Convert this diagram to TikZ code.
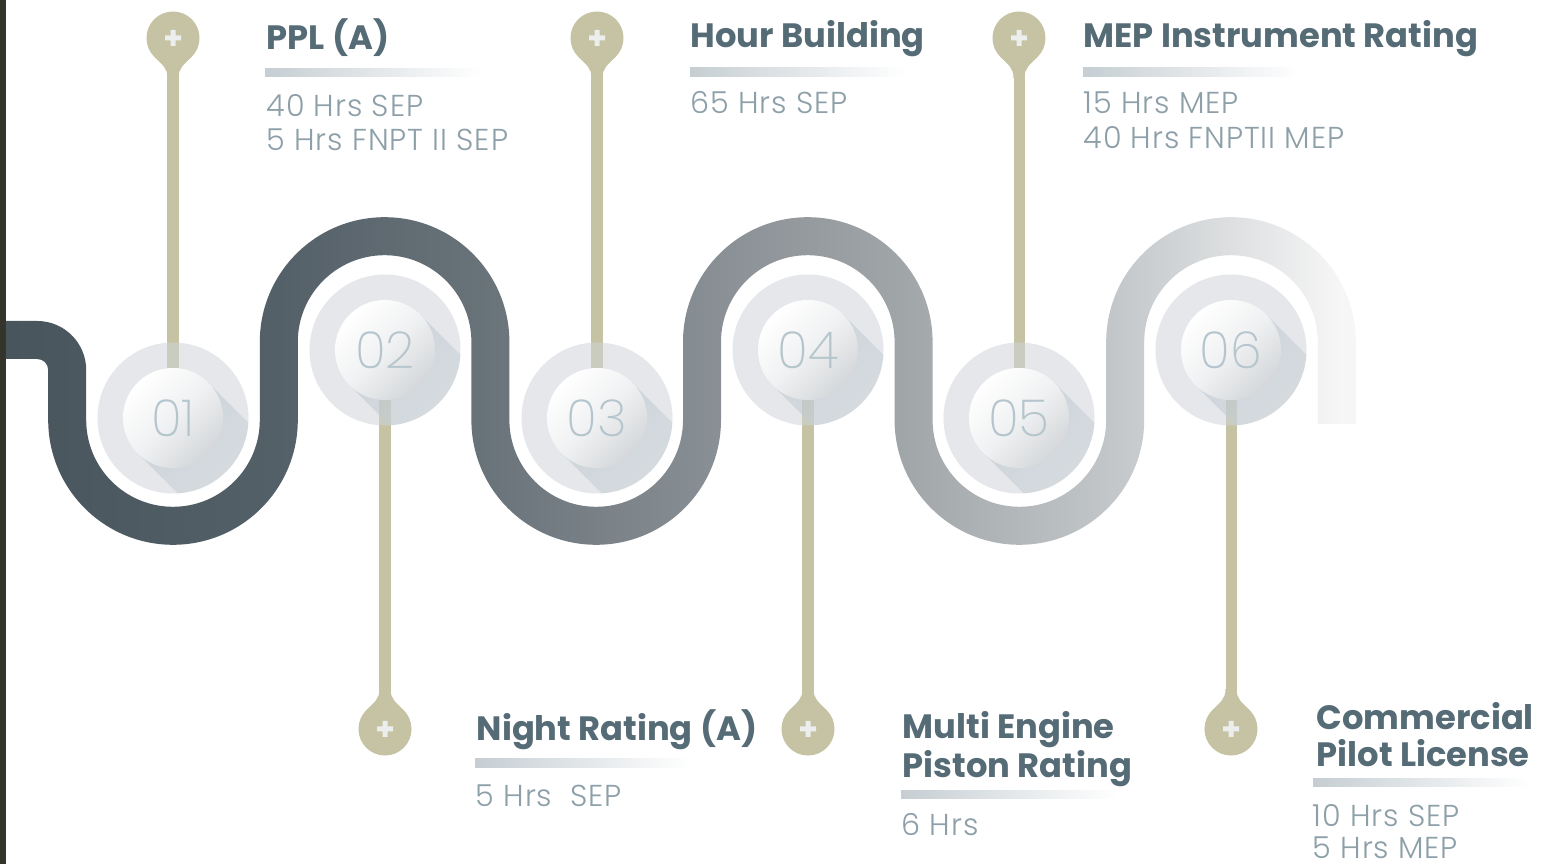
\documentclass[tikz,border=0pt]{standalone}
\usepackage{fontspec}
\setmainfont{Poppins}
\newfontfamily\lightfont{Poppins Light}[LetterSpace=3]
\newfontfamily\thinfont{Poppins ExtraLight}
\usetikzlibrary{positioning}
\definecolor{olivepin}{RGB}{197,195,163}
\definecolor{slate}{RGB}{85,107,118}
\definecolor{mist}{RGB}{141,159,168}
\definecolor{numblue}{RGB}{181,197,205}
\definecolor{ringgrey}{RGB}{208,213,217}
\definecolor{shadedark}{RGB}{182,196,204}
\definecolor{ballgrey}{RGB}{212,215,218}
\definecolor{bargrey}{RGB}{198,206,211}
\definecolor{crosswhite}{RGB}{236,238,238}
\definecolor{edge}{RGB}{52,52,42}
\definecolor{band0}{RGB}{72,85,93}
\definecolor{band1}{RGB}{84,96,104}
\definecolor{band2}{RGB}{104,114,121}
\definecolor{band3}{RGB}{135,142,147}
\definecolor{band4}{RGB}{160,165,168}
\definecolor{band5}{RGB}{196,200,203}
\definecolor{band6}{RGB}{246,246,246}
\pgfdeclarehorizontalshading{bandshade}{100bp}{color(0bp)=(band0); color(25bp)=(band0); color(35bp)=(band1); color(42.5bp)=(band2); color(50.7bp)=(band3); color(58.1bp)=(band4); color(66.3bp)=(band5); color(74.4bp)=(band6); color(100bp)=(band6)}
\tikzset{
  ring/.style={fill=ringgrey, fill opacity=0.55},
  longshade/.style={top color=shadedark, bottom color=ringgrey, shading angle=45, fill opacity=0.5},
  ball/.style={circle, minimum size=1cm, inner sep=0pt, top color=white, bottom color=ballgrey, middle color=white!65!ballgrey, shading angle=45, text=numblue, font=\thinfont\fontsize{14.5}{16}\selectfont},
  head/.style={circle, fill=olivepin, minimum size=0.53cm, inner sep=0pt},
  stem/.style={draw=olivepin, line width=0.11cm},
  title/.style={anchor=base west, inner sep=0pt, text=slate, font=\bfseries\fontsize{9.6}{11}\selectfont},
  detail/.style={anchor=base west, inner sep=0pt, text=mist, font=\lightfont\fontsize{8.6}{10}\selectfont},
  bar/.style={left color=bargrey, right color=white}
}

\begin{document}
\begin{tikzpicture}[x=0.01cm, y=-0.01cm]
  \useasboundingbox (0,0) rectangle (1544,864);
  \fill[white] (0,0) rectangle (1544,864);
  \fill[edge] (0,0) rectangle (6,864);

  % the wave
  \shade[shading=bandshade] (6,321) -- (37.2,321) arc[start angle=-90, end angle=0, radius=49]
    -- (86.2,420) arc[start angle=180, end angle=0, radius=86.8]
    -- (259.8,342) arc[start angle=180, end angle=360, radius=124.8]
    -- (509.4,420) arc[start angle=180, end angle=0, radius=86.8]
    -- (683,342) arc[start angle=180, end angle=360, radius=124.8]
    -- (932.6,420) arc[start angle=180, end angle=0, radius=86.8]
    -- (1106.2,342) arc[start angle=180, end angle=360, radius=124.8]
    -- (1355.8,424) -- (1317.8,424)
    -- (1317.8,342) arc[start angle=0, end angle=-180, radius=86.8]
    -- (1144.2,420) arc[start angle=0, end angle=180, radius=124.8]
    -- (894.6,342) arc[start angle=0, end angle=-180, radius=86.8]
    -- (721,420) arc[start angle=0, end angle=180, radius=124.8]
    -- (471.4,342) arc[start angle=0, end angle=-180, radius=86.8]
    -- (297.8,420) arc[start angle=0, end angle=180, radius=124.8]
    -- (48.2,370) arc[start angle=0, end angle=-90, radius=11]
    -- (6,359) -- cycle;

  % pins and balls
  \foreach \n/\x/\y/\hy/\s in {01/173/418/38/1, 02/385/350/729/-1, 03/597/418/38/1, 04/808/350/729/-1, 05/1019/418/38/1, 06/1231/350/729/-1}{
    \node[head] (h\n) at (\x,\hy) {};
    \fill[olivepin] (\x-18.7,\hy+\s*18.7) .. controls (\x-10.7,\hy+\s*26.7) and (\x-5.5,\hy+\s*30) .. (\x-5.5,\hy+\s*40)
      -- (\x+5.5,\hy+\s*40) .. controls (\x+5.5,\hy+\s*30) and (\x+10.7,\hy+\s*26.7) .. (\x+18.7,\hy+\s*18.7) -- cycle;
    \fill[crosswhite] (\x-8,\hy-2.5) rectangle (\x+8,\hy+2.5) (\x-2.5,\hy-8) rectangle (\x+2.5,\hy+8);
    \coordinate (c\n) at (\x,\y);
    \draw[stem] (h\n) -- (c\n);
    \fill[ring] (c\n) circle (75.5);
    \begin{scope}
      \clip (c\n) circle (75.5);
      \shade[longshade] (\x+35.36,\y-35.36) -- (\x+115.36,\y+44.64) -- (\x+44.64,\y+115.36) -- (\x-35.36,\y+35.36) -- cycle;
    \end{scope}
    \node[ball] (b\n) at (c\n) {\n};
  }

  % texts
  \node[title] (t1) at (266,50) {PPL (A)};
  \fill[bar] (265,69) rectangle (482,77);
  \node[detail] (d1a) at (266,117) {40 Hrs SEP};
  \node[detail] (d1b) at (266,151) {5 Hrs FNPT II SEP};

  \node[title] (t3) at (690,48) {Hour Building};
  \fill[bar] (690,68) rectangle (907,77);
  \node[detail] (d3a) at (690,114) {65 Hrs SEP};

  \node[title] (t5) at (1083,48) {MEP Instrument Rating};
  \fill[bar] (1083,68) rectangle (1300,77);
  \node[detail] (d5a) at (1083,114) {15 Hrs MEP};
  \node[detail] (d5b) at (1083,149) {40 Hrs FNPTII MEP};

  \node[title] (t2) at (476,741) {Night Rating (A)};
  \fill[bar] (475,759) rectangle (690,768);
  \node[detail] (d2a) at (475,807) {5 Hrs~ SEP};

  \node[title] (t4a) at (902,739) {Multi Engine};
  \node[title] (t4b) at (902,778) {Piston Rating};
  \fill[bar] (901,791) rectangle (1117,799);
  \node[detail] (d4a) at (901,836) {6 Hrs};

  \node[title] (t6a) at (1316,730) {Commercial};
  \node[title] (t6b) at (1316,767) {Pilot License};
  \fill[bar] (1313,779) rectangle (1530,787);
  \node[detail] (d6a) at (1312,827) {10 Hrs SEP};
  \node[detail] (d6b) at (1312,859) {5 Hrs MEP};
\end{tikzpicture}
\end{document}
